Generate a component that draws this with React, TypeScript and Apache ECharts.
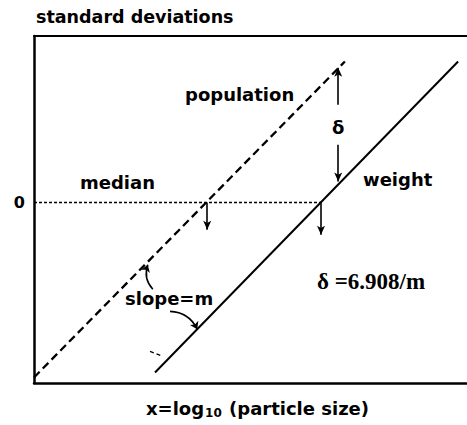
import React, { useEffect, useRef } from "react";
import * as echarts from "echarts";

// Axis extents: x in log10(particle size) units, y in standard deviations
const xRange = [0, 7.8];
const yRange = [-3.25, 3];
const yTickValues = [0];

// Cumulative lines (probability paper): number (population) and weight distributions
const populationLine = [
  [0, -3.15],
  [5.6, 2.54],
];
const weightLine = [
  [2.18, -3.06],
  [7.64, 2.54],
];

// Medians where each line crosses zero standard deviations
const medianPopulation = 3.12;
const medianWeight = 5.17;
const medianArrowEnd = [-0.49, -0.58];

// Vertical offset delta between the two lines
const deltaX = 5.48;
const deltaUpper = [1.76, 2.43];
const deltaLower = [1.04, 0.38];

// "slope=m" pointer arrows
const slopeArrows = [
  [
    [2.14, -1.56],
    [2.05, -1.12],
  ],
  [
    [2.45, -1.96],
    [2.94, -2.28],
  ],
];
const angleMark = [
  [2.09, -2.68],
  [2.32, -2.77],
];

const SANS = "DejaVu Sans";
const SERIF = "Liberation Serif";

export default function App() {
  const ref = useRef<HTMLDivElement>(null);

  useEffect(() => {
    if (!ref.current) return;
    const chart = echarts.init(ref.current, undefined, { renderer: "svg" });

    const arrowLine = (pts: number[][]) => [
      { coord: pts[0] },
      { coord: pts[1] },
    ];

    chart.setOption({
      animation: false,
      backgroundColor: "#fff",
      grid: { left: 34, top: 36, right: 0, bottom: 42 },
      xAxis: [
        {
          type: "value",
          min: xRange[0],
          max: xRange[1],
          axisLine: {
            show: true,
            onZero: false,
            lineStyle: { color: "#000", width: 2.5 },
          },
          axisTick: { show: false },
          axisLabel: { show: false },
          splitLine: { show: false },
          name: "{a|x=log}{s|10}{a| (particle size)}",
          nameLocation: "middle",
          nameGap: 15,
          nameTextStyle: {
            padding: [0, 0, 0, 14],
            rich: {
              a: { fontFamily: SANS, fontWeight: "bold", fontSize: 18, color: "#000" },
              s: {
                fontFamily: SANS,
                fontWeight: "bold",
                fontSize: 12,
                color: "#000",
                verticalAlign: "bottom",
                padding: [9, 1, 0, 1],
              },
            },
          },
        },
        {
          type: "value",
          position: "top",
          min: xRange[0],
          max: xRange[1],
          axisLine: {
            show: true,
            onZero: false,
            lineStyle: { color: "#000", width: 2 },
          },
          axisTick: { show: false },
          axisLabel: { show: false },
          splitLine: { show: false },
        },
      ],
      yAxis: {
        type: "value",
        min: yRange[0],
        max: yRange[1],
        axisLine: {
          show: true,
          onZero: false,
          lineStyle: { color: "#000", width: 2.5 },
        },
        axisTick: { show: false },
        splitLine: { show: false },
        axisLabel: {
          customValues: yTickValues,
          fontFamily: SANS,
          fontWeight: "bold",
          fontSize: 16,
          color: "#000",
          margin: 9,
        },
        name: "standard deviations",
        nameLocation: "end",
        nameGap: 10,
        nameTextStyle: {
          fontFamily: SANS,
          fontWeight: "bold",
          fontSize: 17.5,
          color: "#000",
          align: "left",
          padding: [0, 0, 0, 2],
        },
      },
      series: [
        {
          name: "population",
          type: "line",
          data: populationLine,
          symbol: "none",
          lineStyle: { color: "#000", width: 2.3, type: [8, 4.5] },
        },
        {
          name: "weight",
          type: "line",
          data: weightLine,
          symbol: "none",
          lineStyle: { color: "#000", width: 2 },
          markLine: {
            silent: true,
            symbol: ["none", "arrow"],
            symbolSize: [6, 9],
            label: { show: false },
            lineStyle: { color: "#000", width: 1.6, type: "solid" },
            data: [
              arrowLine([
                [medianPopulation, 0],
                [medianPopulation, medianArrowEnd[0]],
              ]),
              arrowLine([
                [medianWeight, 0],
                [medianWeight, medianArrowEnd[1]],
              ]),
              arrowLine([
                [deltaX, deltaUpper[0]],
                [deltaX, deltaUpper[1]],
              ]),
              arrowLine([
                [deltaX, deltaLower[0]],
                [deltaX, deltaLower[1]],
              ]),
            ],
          },
        },
        {
          name: "median",
          type: "line",
          data: [
            [xRange[0], 0],
            [medianWeight, 0],
          ],
          symbol: "none",
          lineStyle: { color: "#000", width: 1.5, type: [3, 2] },
        },
        {
          name: "slope pointers",
          type: "lines",
          coordinateSystem: "cartesian2d",
          silent: true,
          symbol: ["none", "arrow"],
          symbolSize: 7,
          lineStyle: { color: "#000", width: 1.6, curveness: 0.3, opacity: 1 },
          data: slopeArrows.map((c) => ({ coords: c })),
        },
        {
          name: "angle mark",
          type: "line",
          data: angleMark,
          symbol: "none",
          lineStyle: { color: "#000", width: 1.3, type: [4, 3] },
        },
      ],
      graphic: [
        {
          type: "text",
          left: 80,
          top: 173,
          style: { text: "median", font: `bold 18px '${SANS}'`, fill: "#000" },
        },
        {
          type: "text",
          left: 185,
          top: 85,
          style: { text: "population", font: `bold 18px '${SANS}'`, fill: "#000" },
        },
        {
          type: "text",
          left: 363,
          top: 170,
          style: { text: "weight", font: `bold 18px '${SANS}'`, fill: "#000" },
        },
        {
          type: "text",
          left: 332,
          top: 118,
          style: { text: "δ", font: `bold 18px '${SANS}'`, fill: "#000" },
        },
        {
          type: "text",
          left: 125,
          top: 289,
          style: { text: "slope=m", font: `bold 18px '${SANS}'`, fill: "#000" },
        },
        {
          type: "text",
          left: 317,
          top: 270,
          style: { text: "δ =6.908/m", font: `bold 23px '${SERIF}'`, fill: "#000" },
        },
      ],
    });

    return () => chart.dispose();
  }, []);

  return (
    <div
      ref={ref}
      style={{ position: "fixed", left: 0, top: 0, width: 467, height: 425 }}
    />
  );
}
